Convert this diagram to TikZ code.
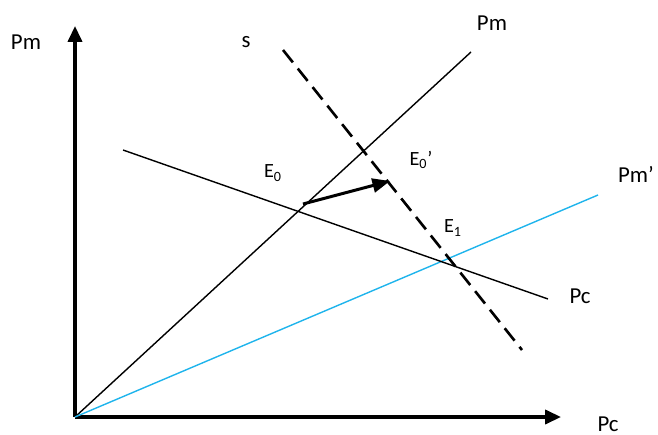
\documentclass[tikz,border=0pt]{standalone}
\usepackage{fontspec}
\setmainfont{Carlito}
\usepackage{xcolor}
\definecolor{pm_blue}{HTML}{1FB4EC}
\usetikzlibrary{positioning,calc,arrows.meta}
\tikzset{AXIS/.style={line width=1.8pt, -{Triangle[length=9pt,width=8pt]}}}
\tikzset{CURVE/.style={line width=0.8pt}}
\tikzset{SHIFT/.style={line width=1.5pt, dash pattern=on 9pt off 4.5pt}}
\tikzset{MOVE/.style={line width=1.7pt, -{Triangle[length=10pt,width=8pt]}}}
\tikzset{LABEL/.style={font=\fontsize{13}{15}\selectfont, inner sep=0pt}}
\tikzset{POINT/.style={font=\fontsize{11.5}{13}\selectfont, inner sep=0pt}}

\begin{document}
\begin{tikzpicture}[x=0.02cm,y=-0.02cm]
\useasboundingbox (0,0) rectangle (658,435);

% axes
\coordinate (c_origin) at (75,417);
\coordinate (c_ytop) at (75,26);
\coordinate (c_xend) at (561,417);
\draw[AXIS] (c_origin) -- (c_ytop);
\draw[AXIS] (c_origin) -- (c_xend);
\node[LABEL] (n_ylabel) at (26,42) {Pm};
\node[LABEL] (n_xlabel) at (608,424) {Pc};

% curves
\coordinate (c_pm_end) at (471,52);
\draw[CURVE] (c_origin) -- (c_pm_end);
\node[LABEL] (n_pm) at (492,23) {Pm};

\coordinate (c_pmp_end) at (598,195);
\draw[CURVE, pm_blue] (c_origin) -- (c_pmp_end);
\node[LABEL] (n_pmp) at (636,174) {Pm’};

\coordinate (c_pc_start) at (123,150);
\coordinate (c_pc_end) at (548,299);
\draw[CURVE] (c_pc_start) -- (c_pc_end);
\node[LABEL] (n_pc) at (580,296) {Pc};

\coordinate (c_s_start) at (283,50);
\coordinate (c_s_end) at (522,350);
\draw[SHIFT] (c_s_start) -- (c_s_end);
\node[LABEL] (n_s) at (246,42) {s};

% shift of equilibrium
\coordinate (c_e0) at (303,204);
\coordinate (c_e0p) at (390,181);
\draw[MOVE] (c_e0) -- (c_e0p);
\node[POINT] (n_e0) at (273,173) {E\textsubscript{0}};
\node[POINT] (n_e0p) at (421,160) {E\textsubscript{0}’};
\node[POINT] (n_e1) at (453,228) {E\textsubscript{1}};

\end{tikzpicture}
\end{document}
